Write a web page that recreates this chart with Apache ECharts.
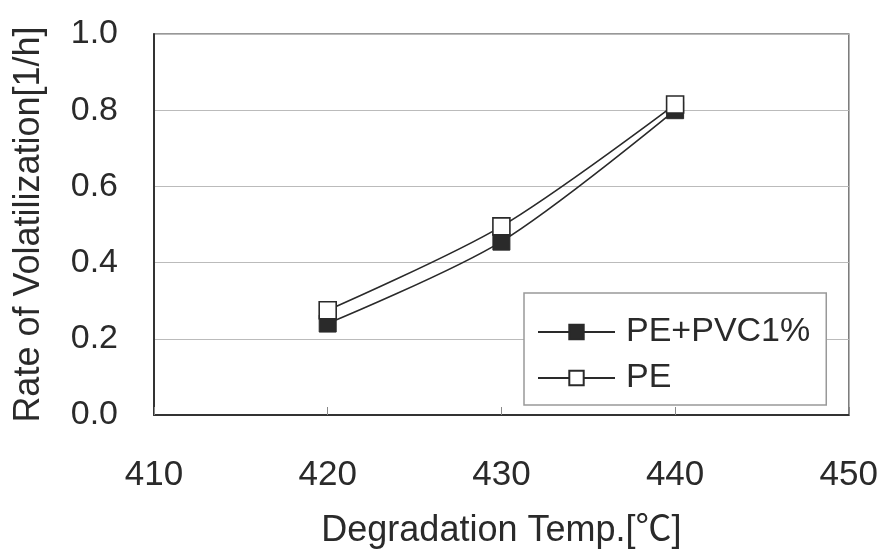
<!DOCTYPE html>
<html>
<head>
<meta charset="utf-8">
<script src="https://cdn.jsdelivr.net/npm/echarts@6/dist/echarts.min.js"></script>
<style>
  html, body { margin: 0; padding: 0; background: #fff; }
  #chart { width: 881px; height: 554px; }
</style>
</head>
<body>
<div id="chart"></div>
<script>
// 数据
var temps = [420, 430, 440];
var pePvc = [0.24, 0.455, 0.80];
var pe = [0.275, 0.495, 0.815];
var seriesNames = ["PE+PVC1%", "PE"];

var font = "'Liberation Sans', Arial, 'Noto Sans CJK JP', sans-serif";
var ink = "#2a2a2a";

function pairs(xs, ys) {
  return xs.map(function (x, i) { return [x, ys[i]]; });
}

var myChart = echarts.init(document.getElementById("chart"));
myChart.setOption({
  animation: false,
  backgroundColor: "#fff",
  grid: {
    left: 154,
    right: 31,
    top: 34,
    bottom: 137,
    show: true,
    borderColor: "#777",
    borderWidth: 1.5
  },
  legend: {
    data: seriesNames,
    orient: "vertical",
    left: 524,
    top: 293,
    itemWidth: 77,
    itemHeight: 18,
    itemGap: 12,
    padding: [22, 16, 10, 13],
    backgroundColor: "#fff",
    borderColor: "#999",
    borderWidth: 1.5,
    borderRadius: 0,
    textStyle: {
      fontFamily: font,
      fontSize: 34,
      color: ink,
      padding: [0, 0, 0, 6]
    }
  },
  xAxis: {
    type: "value",
    min: 410,
    max: 450,
    interval: 10,
    name: "Degradation Temp.[℃]",
    nameLocation: "middle",
    nameGap: 98,
    nameTextStyle: { fontFamily: font, fontSize: 36, color: ink },
    axisLine: { lineStyle: { color: "#333", width: 2 } },
    axisTick: { show: true, inside: true, length: 8, lineStyle: { color: "#888" } },
    axisLabel: { fontFamily: font, fontSize: 35, color: ink, margin: 43 },
    splitLine: { show: false }
  },
  yAxis: {
    type: "value",
    min: 0,
    max: 1,
    interval: 0.2,
    name: "Rate of Volatilization[1/h]",
    nameLocation: "middle",
    nameGap: 107,
    nameTextStyle: { fontFamily: font, fontSize: 36, color: ink },
    axisLine: { show: true, lineStyle: { color: "#333", width: 2 } },
    axisTick: { show: false },
    axisLabel: {
      fontFamily: font,
      fontSize: 34,
      color: ink,
      margin: 36,
      formatter: function (v) { return v.toFixed(1); }
    },
    splitLine: { lineStyle: { color: "#bbb", width: 1.2 } }
  },
  series: [
    {
      name: seriesNames[0],
      type: "line",
      data: pairs(temps, pePvc),
      smooth: 0.3,
      symbol: "rect",
      symbolSize: 17,
      itemStyle: { color: ink, borderColor: ink, borderWidth: 1 },
      lineStyle: { color: ink, width: 1.6 },
      z: 2
    },
    {
      name: seriesNames[1],
      type: "line",
      data: pairs(temps, pe),
      smooth: 0.3,
      symbol: "rect",
      symbolSize: 17,
      itemStyle: { color: "#fff", borderColor: ink, borderWidth: 1.6 },
      lineStyle: { color: ink, width: 1.6 },
      z: 3
    }
  ]
});
</script>
</body>
</html>
